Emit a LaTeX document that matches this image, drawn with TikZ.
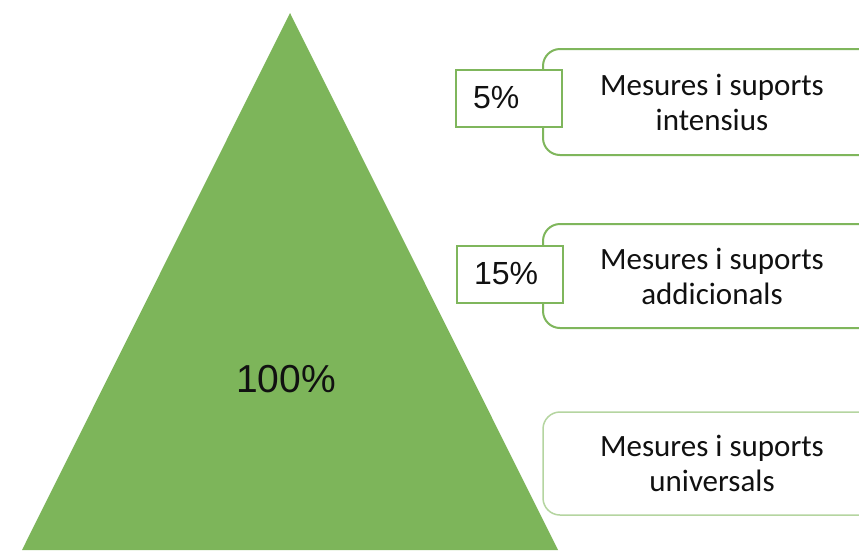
\documentclass[tikz,border=0pt]{standalone}
\usepackage{fontspec}
\setmainfont{Carlito}
\newfontfamily\arialfont{Liberation Sans}
\definecolor{pyrgreen}{HTML}{7DB55A}
\definecolor{boxgreen}{HTML}{7FB65C}
\definecolor{lightgreen}{HTML}{B5D5A0}
\definecolor{txt}{HTML}{111111}
\begin{document}
\begin{tikzpicture}[x=1pt,y=-1pt,
  bigbox/.style={draw=boxgreen, line width=2pt, fill=white, rounded corners=17pt,
    minimum width=338pt, align=center, inner sep=0pt, text=txt,
    font=\fontsize{31}{35}\selectfont},
  pctbox/.style={draw=boxgreen, line width=2pt, fill=white, minimum height=57pt,
    text width=72pt, inner xsep=17pt, inner ysep=0pt, align=left, text=txt,
    font=\arialfont\fontsize{32}{36}\selectfont}]
\useasboundingbox (0,0) rectangle (859,550);
\clip (0,0) rectangle (859,550);
\fill[white] (0,0) rectangle (859,550);
% pyramid
\fill[pyrgreen] (290,13) -- (558,550) -- (22,550) -- cycle;
\node[text=txt, font=\arialfont\fontsize{39}{43}\selectfont] (total) at (286,379) {100\%};
% right boxes
\node[bigbox, minimum height=106pt] (b1) at (712,102) {Mesures i suports\\intensius};
\node[bigbox, minimum height=104pt] (b2) at (712,276) {Mesures i suports\\addicionals};
\node[bigbox, minimum height=103pt, draw=lightgreen, line width=1.5pt] (b3) at (712,463.5) {Mesures i suports\\universals};
% percentage boxes
\node[pctbox] (p1) at (509,98) {5\%};
\node[pctbox] (p2) at (510,274) {15\%};
\end{tikzpicture}
\end{document}
